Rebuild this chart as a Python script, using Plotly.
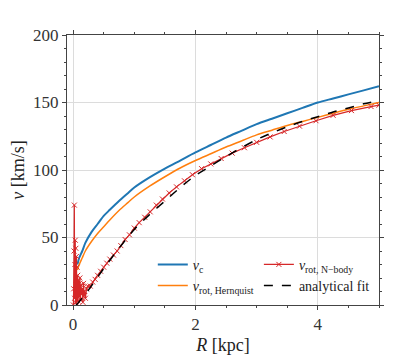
import plotly.graph_objects as go

# readings from the reference picture
vc_r = [0.07, 0.1, 0.15, 0.2, 0.3, 0.4, 0.5, 0.6, 0.75, 0.9, 1.0, 1.25, 1.5, 1.75,
        2.0, 2.25, 2.5, 2.75, 3.0, 3.25, 3.5, 3.75, 4.0, 4.25, 4.5, 4.75, 5.0]
vc_v = [30, 35, 40, 46, 54, 60, 66, 70.5, 77, 83, 87, 94.5, 101, 107,
        113, 118.5, 124, 129, 134, 138, 142, 146, 150, 153, 156, 159, 162]

hern_r = [0.07, 0.1, 0.15, 0.2, 0.3, 0.4, 0.5, 0.6, 0.75, 0.9, 1.0, 1.25, 1.5, 1.75,
          2.0, 2.25, 2.5, 2.75, 3.0, 3.25, 3.5, 3.75, 4.0, 4.25, 4.5, 4.75, 5.0]
hern_v = [26, 30, 35, 40, 47, 53, 58, 63, 70, 76, 80, 88, 95, 101.5,
          107, 112, 117, 121.5, 126, 129.5, 133, 136, 139, 142, 145, 147.5, 150]

fit_r = [0.05, 0.1, 0.25, 0.5, 0.75, 1.0, 1.25, 1.5, 1.75, 2.0, 2.25, 2.5, 2.75,
         3.0, 3.25, 3.5, 3.75, 4.0, 4.25, 4.5, 4.75, 5.0]
fit_v = [0, 2.5, 11, 27, 42, 56, 67, 77, 87, 96, 103, 110, 116.5,
         122.5, 127.5, 132, 136, 139.5, 143, 146, 149, 151.5]

nbody_r = [0.005, 0.01, 0.015, 0.02, 0.025, 0.03, 0.035, 0.04, 0.045, 0.05,
           0.055, 0.06, 0.065, 0.07, 0.075, 0.08, 0.09, 0.1, 0.11, 0.12,
           0.13, 0.14, 0.15, 0.16, 0.17, 0.18, 0.19, 0.2, 0.22, 0.24,
           0.28, 0.32, 0.36, 0.4, 0.45, 0.5, 0.55, 0.6, 0.66, 0.72,
           0.78, 0.85, 0.92, 1.0, 1.08, 1.17, 1.26, 1.36, 1.46, 1.57,
           1.69, 1.82, 1.95, 2.1, 2.25, 2.42, 2.6, 2.8, 3.0, 3.22,
           3.45, 3.7, 3.97, 4.25, 4.55, 4.87, 5.0]
nbody_v = [0, 12, 40, 74, 5, 30, 48, 2, 42, 15,
           36, 0, 28, 10, 22, 3, 18, 6, 20, 4,
           15, 8, 12, 2, 16, 7, 10, 5, 12, 14,
           14, 17, 19, 22, 25, 28, 31, 34, 37, 40,
           44, 48.5, 52, 57, 61, 65, 69, 74, 78.5, 83,
           87.5, 92, 96.5, 101, 104.5, 108.5, 112.5, 116.5, 120.5, 124.5,
           128.5, 132.5, 136.5, 140.5, 144, 147, 148]

serif = 'Liberation Serif, DejaVu Serif, serif'

fig = go.Figure()

fig.add_trace(go.Scatter(x=vc_r, y=vc_v, mode='lines', name='<i>v</i><sub>c</sub>',
                         line=dict(color='#1f77b4', width=2, shape='spline', smoothing=0.8),
                         legend='legend'))
fig.add_trace(go.Scatter(x=hern_r, y=hern_v, mode='lines', name='<i>v</i><sub>rot, Hernquist</sub>',
                         line=dict(color='#ff7f0e', width=1.5, shape='spline', smoothing=0.8),
                         legend='legend'))
fig.add_trace(go.Scatter(x=nbody_r, y=nbody_v, mode='lines+markers', name='<i>v</i><sub>rot, N−body</sub>',
                         line=dict(color='#d62728', width=1.2),
                         marker=dict(symbol='x-thin', size=5, line=dict(color='#d62728', width=1)),
                         legend='legend2'))
fig.add_trace(go.Scatter(x=fit_r, y=fit_v, mode='lines', name='analytical fit',
                         line=dict(color='black', width=1.5, dash='dash', shape='spline', smoothing=0.8),
                         legend='legend2'))

axis_style = dict(showline=True, linecolor='#444', linewidth=1, mirror='allticks',
                  ticks='outside', ticklen=4, tickcolor='#444', automargin=False,
                  showgrid=True, gridcolor='#dcdcdc', gridwidth=1, zeroline=False,
                  tickfont=dict(family=serif, size=17, color='#333'))

fig.update_xaxes(range=[-0.1, 5], tickvals=[0, 2, 4],
                 minor=dict(dtick=0.5, ticks='outside', ticklen=2, tickcolor='#444', showgrid=False),
                 title=dict(text='<i>R</i> [kpc]', font=dict(family=serif, size=18, color='#222'), standoff=4),
                 **axis_style)
fig.update_yaxes(range=[0, 200], tickvals=[0, 50, 100, 150, 200],
                 minor=dict(dtick=10, ticks='outside', ticklen=2, tickcolor='#444', showgrid=False),
                 title=dict(text='<i>v</i> [km/s]', font=dict(family=serif, size=18, color='#222'), standoff=6),
                 **axis_style)

legend_style = dict(bgcolor='rgba(0,0,0,0)', font=dict(family=serif, size=14, color='#222'),
                    itemwidth=30, tracegroupgap=0, yanchor='middle', xanchor='left')

# the page body adds 8px around the figure, so the figure is 8px smaller
fig.update_layout(
    width=391, height=351,
    margin=dict(l=59, r=20, t=27, b=54),
    paper_bgcolor='white', plot_bgcolor='white',
    font=dict(family=serif, color='#222'),
    legend=dict(x=0.275, y=0.11, **legend_style),
    legend2=dict(x=0.615, y=0.11, **legend_style),
)

fig.write_html("out.html")
